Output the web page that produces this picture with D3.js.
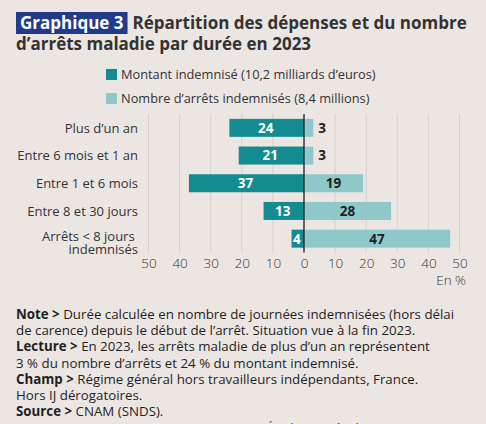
<!DOCTYPE html>
<html>
<head>
<meta charset="utf-8">
<script src="https://cdn.jsdelivr.net/npm/d3@7"></script>
<style>
  body { margin: 0; background: #ece6e3; }
  svg text { font-family: 'Open Sans', sans-serif; }
</style>
</head>
<body>
<div id="chart"></div>
<script>
//
// Diverging horizontal bars: amount paid (left) vs number of sick leaves (right).
//
var categories = ['Plus d’un an', 'Entre 6 mois et 1 an', 'Entre 1 et 6 mois', 'Entre 8 et 30 jours', 'Arrêts < 8 jours \nindemnisés'];
var montant = [24, 21, 37, 13, 4];
var nombre = [3, 3, 19, 28, 47];
var tickValues = [-50, -40, -30, -20, -10, 0, 10, 20, 30, 40, 50];
var seriesNames = ['Montant indemnisé (10,2 milliards d’euros)', 'Nombre d’arrêts indemnisés (8,4 millions)'];
var notes = [
    ['Note > ', 'Durée calculée en nombre de journées indemnisées (hors délai'],
    ['', 'de carence) depuis le début de l’arrêt. Situation vue à la fin 2023.'],
    ['Lecture > ', 'En 2023, les arrêts maladie de plus d’un an représentent'],
    ['', '3 % du nombre d’arrêts et 24 % du montant indemnisé.'],
    ['Champ > ', 'Régime général hors travailleurs indépendants, France.'],
    ['', 'Hors IJ dérogatoires.'],
    ['Source > ', 'CNAM (SNDS).']
];

var options = {
    colorDark: '#128c90',
    colorLight: '#8ec8cb',
    colorTitleBox: '#213a8c',
    colorGrid: '#d6d0cd',
    background: '#ece6e3'
};

var width = 486, height = 424;
var svg = d3.select('#chart').append('svg')
    .attr('width', width)
    .attr('height', height);

svg.append('rect')
    .attr('width', width)
    .attr('height', height)
    .style('fill', options.background);

// Title with the blue "Graphique 3" box
var titleBox = svg.append('rect')
    .attr('x', 16).attr('y', 12)
    .attr('height', 22)
    .style('fill', options.colorTitleBox);
var tag = svg.append('text')
    .attr('x', 20).attr('y', 29)
    .style('font-size', '17px')
    .style('font-weight', 700)
    .style('fill', 'white')
    .text('Graphique 3');
var tagWidth = tag.node().getComputedTextLength();
titleBox.attr('width', tagWidth + 8);
svg.append('text')
    .attr('x', 16 + tagWidth + 13).attr('y', 29)
    .style('font-size', '17px')
    .style('font-weight', 700)
    .style('fill', '#333')
    .text('Répartition des dépenses et du nombre');
svg.append('text')
    .attr('x', 16).attr('y', 50)
    .style('font-size', '17px')
    .style('font-weight', 700)
    .style('fill', '#333')
    .text('d’arrêts maladie par durée en 2023');

// Legend
var legend = svg.selectAll('g.legend')
    .data(seriesNames)
    .enter().append('g')
    .attr('class', 'legend')
    .attr('transform', function(d, i) { return 'translate(106,' + (69 + i * 24) + ')'; });
legend.append('rect')
    .attr('width', 11).attr('height', 11)
    .style('fill', function(d, i) { return i === 0 ? options.colorDark : options.colorLight; });
legend.append('text')
    .attr('x', 15).attr('y', 10)
    .style('font-size', '12.8px')
    .style('fill', '#333')
    .text(function(d) { return d; });

// Scales
var x = d3.scaleLinear()
    .domain([-50, 50])
    .range([148.5, 459.5]);
var y = d3.scaleBand()
    .domain(categories)
    .range([114, 252.5])
    .paddingInner(0.35)
    .paddingOuter(0.175);

// Grid lines
svg.append('g')
    .selectAll('line')
    .data(tickValues)
    .enter().append('line')
    .attr('x1', function(d) { return x(d); })
    .attr('x2', function(d) { return x(d); })
    .attr('y1', y.range()[0])
    .attr('y2', y.range()[1])
    .attr('stroke', options.colorGrid)
    .attr('stroke-width', 1);

// Bars
var rows = svg.selectAll('g.row')
    .data(categories)
    .enter().append('g')
    .attr('class', 'row')
    .attr('transform', function(d) { return 'translate(0,' + y(d) + ')'; });

rows.append('rect')
    .attr('x', function(d, i) { return x(-montant[i]); })
    .attr('width', function(d, i) { return x(0) - x(-montant[i]); })
    .attr('height', y.bandwidth())
    .style('fill', options.colorDark);

rows.append('rect')
    .attr('x', x(0))
    .attr('width', function(d, i) { return x(nombre[i]) - x(0); })
    .attr('height', y.bandwidth())
    .style('fill', options.colorLight);

rows.append('text')
    .attr('x', function(d, i) { return (x(-montant[i]) + x(0)) / 2 - 1; })
    .attr('y', y.bandwidth() / 2)
    .attr('dy', '0.36em')
    .style('text-anchor', 'middle')
    .style('font-size', '13.5px')
    .style('font-weight', 700)
    .style('fill', 'white')
    .text(function(d, i) { return montant[i]; });

// Small values go just outside the bar
rows.append('text')
    .attr('x', function(d, i) {
        return nombre[i] < 5 ? x(nombre[i]) + 5 : (x(nombre[i]) + x(0)) / 2;
    })
    .attr('y', y.bandwidth() / 2)
    .attr('dy', '0.36em')
    .style('text-anchor', function(d, i) { return nombre[i] < 5 ? 'start' : 'middle'; })
    .style('font-size', '13.5px')
    .style('font-weight', 700)
    .style('fill', '#1f1f1f')
    .text(function(d, i) { return nombre[i]; });

// Category labels (may wrap on \n)
var catLabel = rows.append('text')
    .attr('x', 138)
    .attr('y', y.bandwidth() / 2)
    .style('text-anchor', 'end')
    .style('font-size', '13px')
    .style('fill', '#333')
    .style('white-space', 'pre');
catLabel.each(function(d) {
    var parts = d.split('\n');
    var t = d3.select(this);
    parts.forEach(function(p, k) {
        t.append('tspan')
            .attr('x', 138)
            .attr('dy', k === 0 ? (parts.length > 1 ? '0.15em' : '0.36em') : '1.0em')
            .text(p);
    });
});

// Zero line
svg.append('line')
    .attr('x1', x(0)).attr('x2', x(0))
    .attr('y1', y.range()[0]).attr('y2', y.range()[1])
    .attr('stroke', '#111')
    .attr('stroke-width', 1.2);

// Axis
var axis = svg.append('g')
    .attr('transform', 'translate(0,' + y.range()[1] + ')')
    .call(d3.axisBottom(x)
        .tickValues(tickValues)
        .tickSize(0)
        .tickPadding(6)
        .tickFormat(function(d) { return Math.abs(d); }));
axis.select('.domain').remove();
axis.selectAll('text')
    .style('font-size', '13.5px')
    .style('font-family', "'Open Sans', sans-serif")
    .style('font-weight', 300)
    .style('fill', '#333');

svg.append('text')
    .attr('x', 466).attr('y', 285)
    .style('text-anchor', 'end')
    .style('font-size', '13.5px')
    .style('font-weight', 300)
    .style('fill', '#333')
    .text('En %');

// Notes
var noteText = svg.selectAll('text.note')
    .data(notes)
    .enter().append('text')
    .attr('class', 'note')
    .attr('x', 16)
    .attr('y', function(d, i) { return 319 + i * 16.2; })
    .style('font-size', '13.3px')
    .style('fill', '#1f1f1f');
noteText.append('tspan')
    .style('font-weight', 700)
    .text(function(d) { return d[0]; });
noteText.append('tspan')
    .text(function(d) { return d[1]; });

// Running footer, cut off by the frame
svg.append('text')
    .attr('x', 266).attr('y', 433)
    .style('font-size', '13px')
    .style('fill', '#444')
    .text('Études et Résultats');
</script>
</body>
</html>
